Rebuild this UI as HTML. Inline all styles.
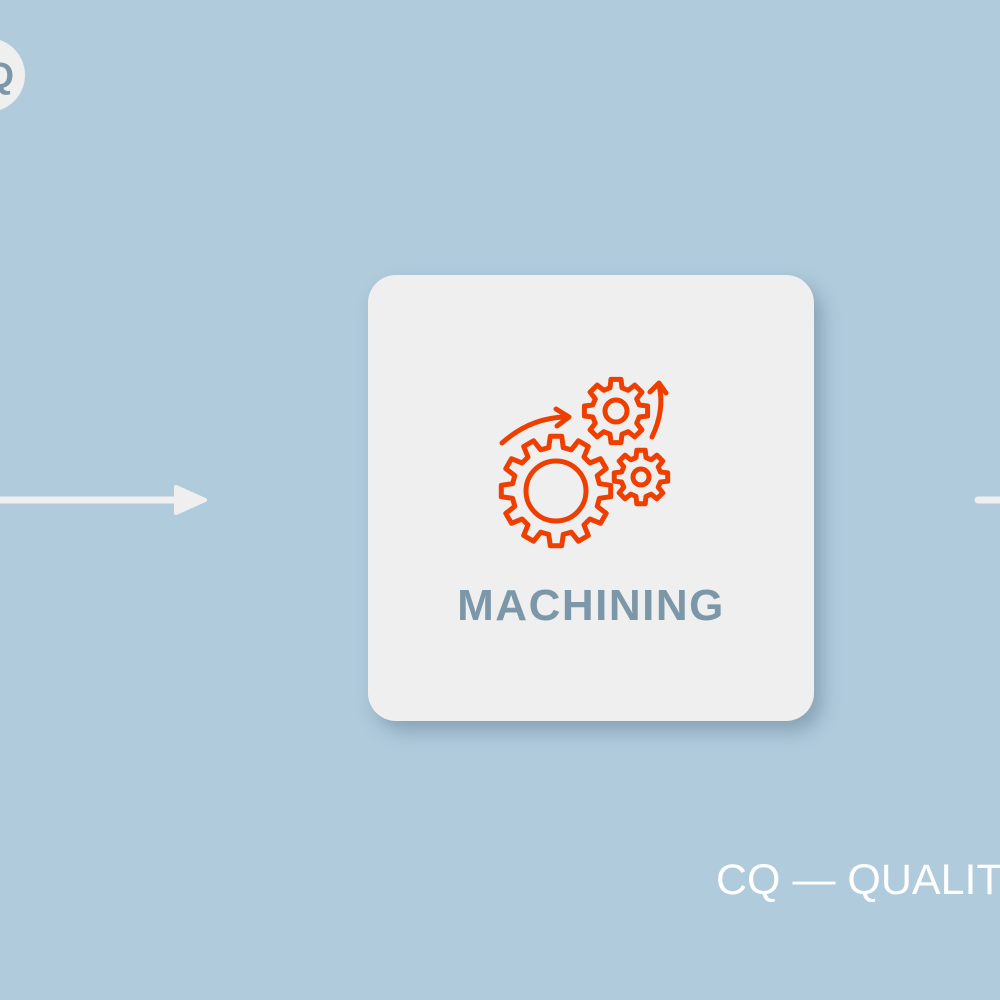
<!DOCTYPE html>
<html><head><meta charset="utf-8"><style>
html,body{margin:0;padding:0}
body{width:1000px;height:1000px;background:#b0cbdc;position:relative;overflow:hidden;font-family:"Liberation Sans",sans-serif}
.card{position:absolute;left:368px;top:275px;width:446px;height:446px;background:#efefef;border-radius:28px;box-shadow:8px 10px 18px rgba(60,90,110,0.35)}
.lbl{position:absolute;left:368px;width:446px;top:581px;text-align:center;font-weight:bold;font-size:44px;color:#7b97a8;letter-spacing:1.5px}
.circ{position:absolute;left:-49px;top:38px;width:74px;height:74px;border-radius:50%;background:#efefef}
.q{position:absolute;left:-14px;top:55px;font-weight:bold;font-size:36px;color:#7b97a8}
.bt{position:absolute;left:716px;top:856px;font-size:43px;color:#fff;white-space:nowrap}
</style></head><body>
<div class="circ"></div><div class="q">Q</div>
<svg width="1000" height="1000" style="position:absolute;left:0;top:0">
<line x1="0" y1="500" x2="185" y2="500" stroke="#efefef" stroke-width="7"/>
<path d="M176 487 L205 500 L176 513 Z" fill="#efefef" stroke="#efefef" stroke-width="4" stroke-linejoin="round"/>
<line x1="978" y1="500" x2="1000" y2="500" stroke="#efefef" stroke-width="7" stroke-linecap="round"/>
</svg>
<div class="card"></div>
<div class="lbl">MACHINING</div>
<svg id="g" width="1000" height="1000" style="position:absolute;left:0;top:0">
<g fill="none" stroke="#ef3f00" stroke-width="5" stroke-linejoin="round" stroke-linecap="round">
<circle cx="556" cy="491" r="30"/>
<circle cx="616" cy="411" r="11"/>
<circle cx="641" cy="477" r="8"/>
<path d="M502 443 Q530 418 565 417"/>
<path d="M556 409 L569 417 L557 426"/>
<path d="M652 437 Q665 410 659 385"/>
<path d="M650 392 L659 383 L666 393"/>
<path id="p1"/><path id="p2"/><path id="p3"/>
</g></svg>
<div class="bt">CQ — QUALITY</div>
<script>
function gear(cx,cy,ro,ri,n){var d="",s=Math.PI*2/n;for(var i=0;i<n;i++){var a=i*s;var pts=[[ri,a-s*0.32],[ro,a-s*0.2],[ro,a+s*0.2],[ri,a+s*0.32]];pts.forEach(function(p,j){var x=cx+p[0]*Math.cos(p[1]),y=cy+p[0]*Math.sin(p[1]);d+=(i==0&&j==0?"M":"L")+x.toFixed(1)+" "+y.toFixed(1);});}return d+"Z";}
document.getElementById("p1").setAttribute("d",gear(556,491,55,44,12));
document.getElementById("p2").setAttribute("d",gear(616,411,32,24,8));
document.getElementById("p3").setAttribute("d",gear(641,477,27,20,8));
</script>
</body></html>
